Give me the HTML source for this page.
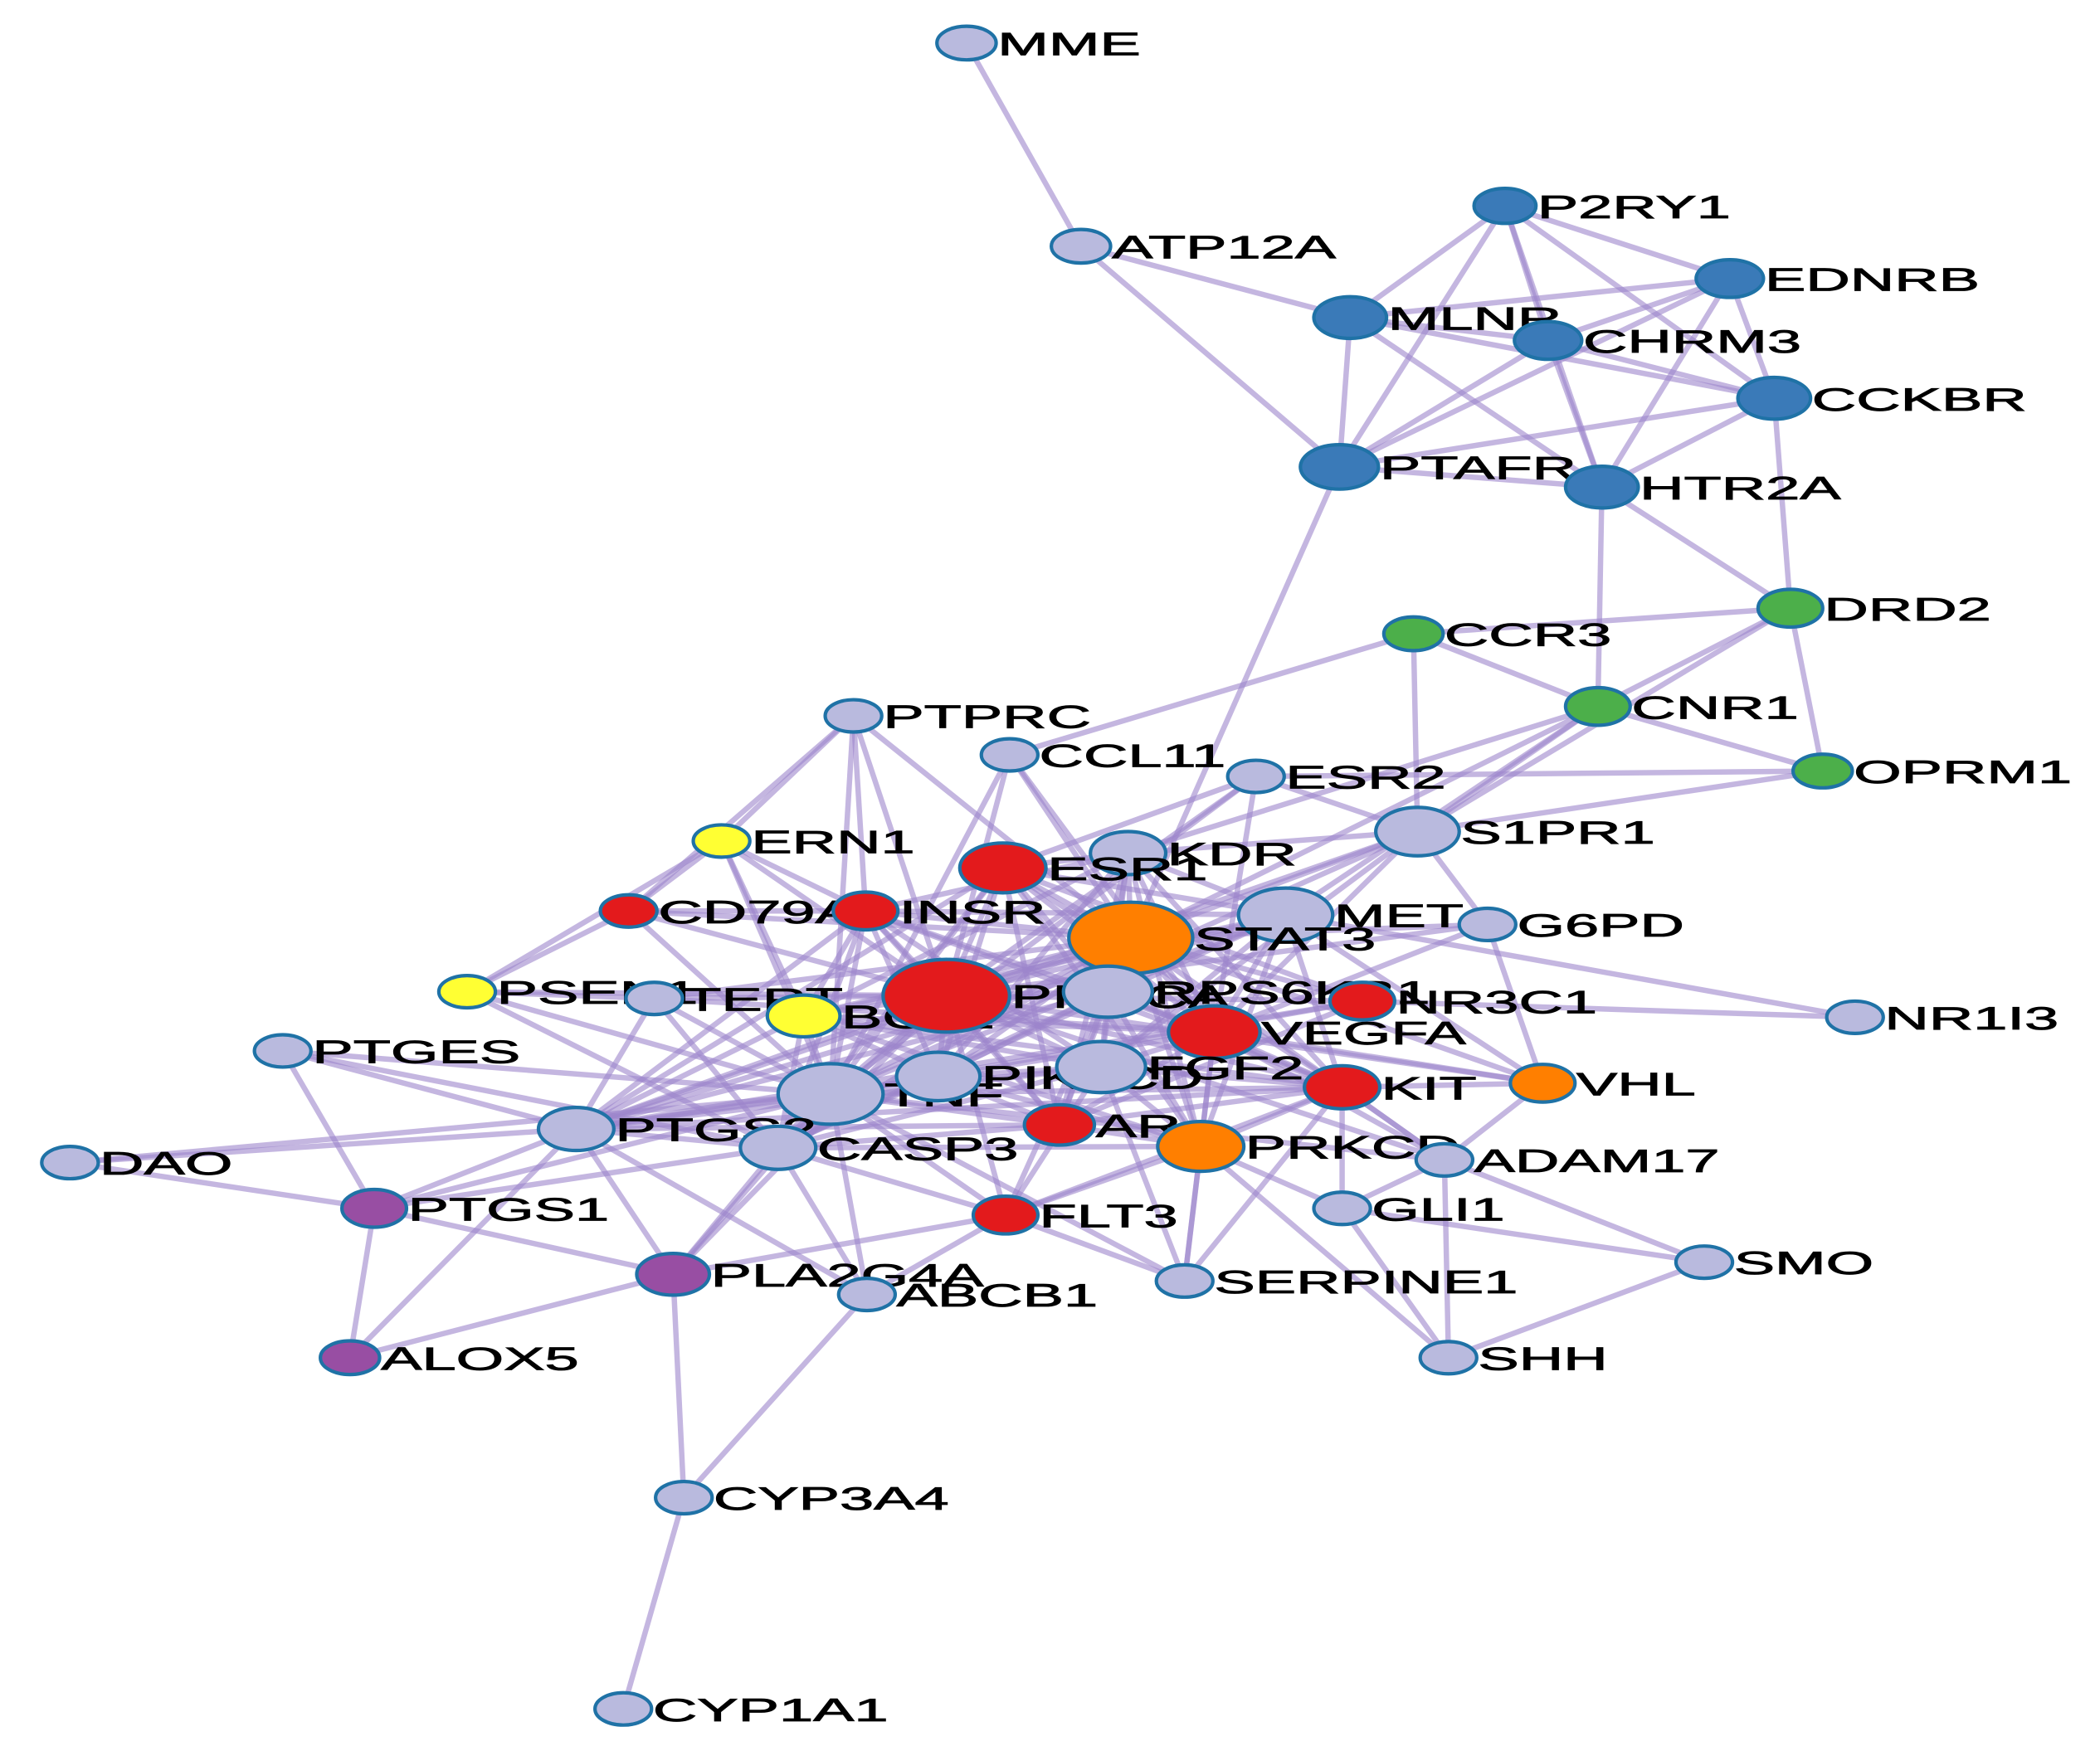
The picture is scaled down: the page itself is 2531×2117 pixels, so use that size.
<!DOCTYPE html>
<html><head><meta charset="utf-8"><style>
html,body{margin:0;padding:0;background:#fff;}
svg{display:block;}
text{font-family:"Liberation Sans",Arial,sans-serif;font-size:24px;fill:#000;stroke:#000;stroke-width:0.5;}
.n ellipse{stroke-width:2.6;stroke:#1f72a6;}
.L{fill:#b9bade}.R{fill:#e31a1c}.O{fill:#ff7f00}.Y{fill:#ffff33}.B{fill:#3a7ab8}.G{fill:#4caf4a}.P{fill:#984ea3}
</style></head><body>
<svg id="s" width="2531" height="2117" viewBox="0 0 1560 1305" preserveAspectRatio="none" xmlns="http://www.w3.org/2000/svg">
<rect width="1560" height="1305" fill="#fff"/>
<g id="edges" stroke="#9d86cb" stroke-opacity="0.6" stroke-width="4" fill="none"></g>
<g class="n">
<ellipse class="L" cx="718" cy="32" rx="22" ry="12.5"/><text transform="translate(741,41) scale(1.9,1)">MME</text>
<ellipse class="L" cx="803" cy="183" rx="22" ry="12.5"/><text transform="translate(826,192) scale(1.9,1)">ATP12A</text>
<ellipse class="B" cx="1118" cy="153" rx="23" ry="13"/><text transform="translate(1142,162) scale(1.9,1)">P2RY1</text>
<ellipse class="B" cx="1285" cy="207" rx="25" ry="14"/><text transform="translate(1311,216) scale(1.9,1)">EDNRB</text>
<ellipse class="B" cx="1003" cy="236" rx="27" ry="15.5"/><text transform="translate(1031,245) scale(1.9,1)">MLNR</text>
<ellipse class="B" cx="1150" cy="253" rx="25" ry="14"/><text transform="translate(1176,262) scale(1.9,1)">CHRM3</text>
<ellipse class="B" cx="1318" cy="296" rx="27" ry="15.5"/><text transform="translate(1346,305) scale(1.9,1)">CCKBR</text>
<ellipse class="B" cx="995" cy="347" rx="29" ry="16.5"/><text transform="translate(1025,356) scale(1.9,1)">PTAFR</text>
<ellipse class="B" cx="1190" cy="362" rx="27" ry="15.5"/><text transform="translate(1218,371) scale(1.9,1)">HTR2A</text>
<ellipse class="G" cx="1330" cy="452" rx="24" ry="14"/><text transform="translate(1355,461) scale(1.9,1)">DRD2</text>
<ellipse class="G" cx="1050" cy="471" rx="22" ry="12.5"/><text transform="translate(1073,480) scale(1.9,1)">CCR3</text>
<ellipse class="G" cx="1187" cy="525" rx="24" ry="14"/><text transform="translate(1212,534) scale(1.9,1)">CNR1</text>
<ellipse class="G" cx="1354" cy="573" rx="22" ry="12.5"/><text transform="translate(1377,582) scale(1.9,1)">OPRM1</text>
<ellipse class="L" cx="634" cy="532" rx="21" ry="12"/><text transform="translate(656,541) scale(1.9,1)">PTPRC</text>
<ellipse class="L" cx="750" cy="561" rx="21" ry="12"/><text transform="translate(772,570) scale(1.9,1)">CCL11</text>
<ellipse class="L" cx="933" cy="577" rx="21" ry="12"/><text transform="translate(955,586) scale(1.9,1)">ESR2</text>
<ellipse class="L" cx="1053" cy="618" rx="31" ry="18"/><text transform="translate(1085,627) scale(1.9,1)">S1PR1</text>
<ellipse class="Y" cx="536" cy="625" rx="21" ry="12"/><text transform="translate(558,634) scale(1.9,1)">ERN1</text>
<ellipse class="L" cx="838" cy="634" rx="28" ry="16"/><text transform="translate(867,643) scale(1.9,1)">KDR</text>
<ellipse class="R" cx="745" cy="645" rx="32" ry="18.5"/><text transform="translate(778,654) scale(1.9,1)">ESR1</text>
<ellipse class="R" cx="467" cy="677" rx="21" ry="12"/><text transform="translate(489,686) scale(1.9,1)">CD79A</text>
<ellipse class="R" cx="643" cy="677" rx="24" ry="14"/><text transform="translate(668,686) scale(1.9,1)">INSR</text>
<ellipse class="L" cx="1105" cy="687" rx="21" ry="12"/><text transform="translate(1127,696) scale(1.9,1)">G6PD</text>
<ellipse class="L" cx="955" cy="680" rx="35" ry="20"/><text transform="translate(991,689) scale(1.9,1)">MET</text>
<ellipse class="L" cx="1378" cy="756" rx="21" ry="12"/><text transform="translate(1400,765) scale(1.9,1)">NR1I3</text>
<ellipse class="Y" cx="347" cy="737" rx="21" ry="12"/><text transform="translate(369,746) scale(1.9,1)">PSEN1</text>
<ellipse class="L" cx="486" cy="742" rx="21" ry="12"/><text transform="translate(508,751) scale(1.9,1)">TERT</text>
<ellipse class="Y" cx="597" cy="755" rx="27" ry="15.5"/><text transform="translate(625,764) scale(1.9,1)">BCL2</text>
<ellipse class="R" cx="703" cy="740" rx="47" ry="27"/><text transform="translate(751,749) scale(1.9,1)">PIK3CA</text>
<ellipse class="O" cx="840" cy="697" rx="46" ry="26.5"/><text transform="translate(887,706) scale(1.9,1)">STAT3</text>
<ellipse class="L" cx="823" cy="737" rx="33" ry="19"/><text transform="translate(857,746) scale(1.9,1)">RPS6KB1</text>
<ellipse class="R" cx="1012" cy="744" rx="24" ry="14"/><text transform="translate(1037,753) scale(1.9,1)">NR3C1</text>
<ellipse class="R" cx="902" cy="767" rx="34" ry="19.5"/><text transform="translate(937,776) scale(1.9,1)">VEGFA</text>
<ellipse class="L" cx="210" cy="781" rx="21" ry="12"/><text transform="translate(232,790) scale(1.9,1)">PTGES</text>
<ellipse class="L" cx="617" cy="813" rx="39" ry="22.5"/><text transform="translate(657,822) scale(1.9,1)">TNF</text>
<ellipse class="L" cx="697" cy="800" rx="31" ry="18"/><text transform="translate(729,809) scale(1.9,1)">PIK3CD</text>
<ellipse class="L" cx="818" cy="793" rx="33" ry="19"/><text transform="translate(852,802) scale(1.9,1)">FGF2</text>
<ellipse class="R" cx="997" cy="808" rx="28" ry="16"/><text transform="translate(1026,817) scale(1.9,1)">KIT</text>
<ellipse class="O" cx="1146" cy="805" rx="24" ry="14"/><text transform="translate(1171,814) scale(1.9,1)">VHL</text>
<ellipse class="R" cx="787" cy="836" rx="26" ry="15"/><text transform="translate(814,845) scale(1.9,1)">AR</text>
<ellipse class="L" cx="428" cy="839" rx="28" ry="16"/><text transform="translate(457,848) scale(1.9,1)">PTGS2</text>
<ellipse class="L" cx="578" cy="853" rx="28" ry="16"/><text transform="translate(607,862) scale(1.9,1)">CASP3</text>
<ellipse class="O" cx="892" cy="852" rx="32" ry="18.5"/><text transform="translate(925,861) scale(1.9,1)">PRKCD</text>
<ellipse class="L" cx="1073" cy="862" rx="21" ry="12"/><text transform="translate(1095,871) scale(1.9,1)">ADAM17</text>
<ellipse class="L" cx="52" cy="864" rx="21" ry="12"/><text transform="translate(74,873) scale(1.9,1)">DAO</text>
<ellipse class="L" cx="997" cy="898" rx="21" ry="12"/><text transform="translate(1019,907) scale(1.9,1)">GLI1</text>
<ellipse class="P" cx="278" cy="898" rx="24" ry="14"/><text transform="translate(303,907) scale(1.9,1)">PTGS1</text>
<ellipse class="R" cx="747" cy="903" rx="24" ry="14"/><text transform="translate(772,912) scale(1.9,1)">FLT3</text>
<ellipse class="P" cx="500" cy="947" rx="27" ry="15.5"/><text transform="translate(528,956) scale(1.9,1)">PLA2G4A</text>
<ellipse class="L" cx="644" cy="962" rx="21" ry="12"/><text transform="translate(666,971) scale(1.9,1)">ABCB1</text>
<ellipse class="L" cx="880" cy="952" rx="21" ry="12"/><text transform="translate(902,961) scale(1.9,1)">SERPINE1</text>
<ellipse class="L" cx="1266" cy="938" rx="21" ry="12"/><text transform="translate(1288,947) scale(1.9,1)">SMO</text>
<ellipse class="P" cx="260" cy="1009" rx="22" ry="12.5"/><text transform="translate(283,1018) scale(1.9,1)">ALOX5</text>
<ellipse class="L" cx="1076" cy="1009" rx="21" ry="12"/><text transform="translate(1098,1018) scale(1.9,1)">SHH</text>
<ellipse class="L" cx="508" cy="1113" rx="21" ry="12"/><text transform="translate(530,1122) scale(1.9,1)">CYP3A4</text>
<ellipse class="L" cx="463" cy="1270" rx="21" ry="12"/><text transform="translate(485,1279) scale(1.9,1)">CYP1A1</text>
</g>
</svg>
<script>
var M={MME:[718,32],ATP12A:[803,183],P2RY1:[1118,153],EDNRB:[1285,207],MLNR:[1003,236],CHRM3:[1150,253],CCKBR:[1318,296],PTAFR:[995,347],HTR2A:[1190,362],DRD2:[1330,452],CCR3:[1050,471],CNR1:[1187,525],OPRM1:[1354,573],PTPRC:[634,532],CCL11:[750,561],ESR2:[933,577],S1PR1:[1053,618],ERN1:[536,625],KDR:[838,634],ESR1:[745,645],CD79A:[467,677],INSR:[643,677],G6PD:[1105,687],MET:[955,680],NR1I3:[1378,756],PSEN1:[347,737],TERT:[486,742],BCL2:[597,755],PIK3CA:[703,740],STAT3:[840,697],RPS6KB1:[823,737],NR3C1:[1012,744],VEGFA:[902,767],PTGES:[210,781],TNF:[617,813],PIK3CD:[697,800],FGF2:[818,793],KIT:[997,808],VHL:[1146,805],AR:[787,836],PTGS2:[428,839],CASP3:[578,853],PRKCD:[892,852],ADAM17:[1073,862],DAO:[52,864],GLI1:[997,898],PTGS1:[278,898],FLT3:[747,903],PLA2G4A:[500,947],ABCB1:[644,962],SERPINE1:[880,952],SMO:[1266,938],ALOX5:[260,1009],SHH:[1076,1009],CYP3A4:[508,1113],CYP1A1:[463,1270]};
var E=[['MME','ATP12A'],['ATP12A','MLNR'],['ATP12A','PTAFR'],
['P2RY1','MLNR'],['P2RY1','CHRM3'],['P2RY1','EDNRB'],['P2RY1','CCKBR'],['P2RY1','HTR2A'],['P2RY1','PTAFR'],
['EDNRB','MLNR'],['EDNRB','CHRM3'],['EDNRB','CCKBR'],['EDNRB','HTR2A'],['EDNRB','PTAFR'],
['MLNR','CHRM3'],['MLNR','CCKBR'],['MLNR','PTAFR'],['MLNR','HTR2A'],['CHRM3','CCKBR'],['CHRM3','PTAFR'],['CHRM3','HTR2A'],
['CCKBR','PTAFR'],['CCKBR','HTR2A'],['CCKBR','DRD2'],['PTAFR','HTR2A'],['PTAFR','STAT3'],
['HTR2A','DRD2'],['HTR2A','CNR1'],['DRD2','CCR3'],['DRD2','CNR1'],['DRD2','OPRM1'],['DRD2','S1PR1'],
['CCR3','CNR1'],['CCR3','S1PR1'],['CCR3','CCL11'],['CNR1','OPRM1'],['CNR1','S1PR1'],['CNR1','STAT3'],['CNR1','KDR'],['CNR1','MET'],
['OPRM1','S1PR1'],['OPRM1','ESR2'],
['PTGES','PTGS2'],['PTGES','PTGS1'],['PTGES','TNF'],['PTGES','CASP3'],['DAO','PTGS1'],['DAO','PTGS2'],['DAO','TNF'],
['PTGS1','PTGS2'],['PTGS1','ALOX5'],['PTGS1','PLA2G4A'],['PTGS1','TNF'],['PTGS1','CASP3'],
['ALOX5','PLA2G4A'],['ALOX5','PTGS2'],['PLA2G4A','PTGS2'],['PLA2G4A','CASP3'],['PLA2G4A','TNF'],['PLA2G4A','CYP3A4'],['PLA2G4A','FLT3'],['PLA2G4A','PIK3CA'],
['CYP3A4','CYP1A1'],['CYP3A4','ABCB1'],['ABCB1','TNF'],['ABCB1','CASP3'],['ABCB1','FLT3'],['ABCB1','PTGS2'],
['SMO','GLI1'],['SMO','SHH'],['SMO','ADAM17'],['SHH','GLI1'],['SHH','ADAM17'],['SHH','PRKCD'],['GLI1','PRKCD'],['GLI1','ADAM17'],['GLI1','KIT'],
['SERPINE1','FLT3'],['SERPINE1','PRKCD'],['SERPINE1','VEGFA'],['SERPINE1','TNF'],['SERPINE1','KIT'],['SERPINE1','FGF2'],
['NR1I3','NR3C1'],['NR1I3','MET'],['VHL','VEGFA'],['VHL','MET'],['VHL','G6PD'],['VHL','STAT3'],['VHL','ADAM17'],['VHL','KIT'],['VHL','PIK3CA'],
['PTPRC','ERN1'],['PTPRC','PIK3CA'],['PTPRC','TNF'],['PTPRC','CD79A'],['PTPRC','STAT3'],['PTPRC','INSR'],
['PSEN1','CD79A'],['PSEN1','TNF'],['PSEN1','PIK3CA'],['PSEN1','CASP3'],['PSEN1','ERN1'],['PSEN1','TERT'],
['ERN1','CD79A'],['ERN1','PIK3CA'],['ERN1','BCL2'],['ERN1','TNF'],['ERN1','INSR'],
['CD79A','INSR'],['CD79A','PIK3CA'],['CD79A','TNF'],['CD79A','STAT3'],
['CCL11','STAT3'],['CCL11','TNF'],['CCL11','VEGFA'],['CCL11','PIK3CA'],['ESR2','ESR1'],['ESR2','S1PR1'],['ESR2','PIK3CA'],['ESR2','VEGFA'],['ESR2','TNF'],
['G6PD','STAT3'],['G6PD','PIK3CA'],['G6PD','VEGFA'],['G6PD','S1PR1'],['S1PR1','PIK3CA'],['S1PR1','STAT3'],['S1PR1','VEGFA'],['S1PR1','KDR'],['S1PR1','FGF2'],['S1PR1','TNF'],
['ADAM17','TNF'],['ADAM17','VEGFA'],['ADAM17','PIK3CA'],['ADAM17','STAT3'],['ADAM17','KIT'],
['FLT3','PIK3CA'],['FLT3','STAT3'],['FLT3','KIT'],['FLT3','TNF'],['FLT3','CASP3'],['FLT3','PRKCD'],['FLT3','FGF2'],
['NR3C1','TNF'],['NR3C1','STAT3'],['NR3C1','ESR1'],['NR3C1','AR'],['NR3C1','PIK3CA'],['NR3C1','PTGS2'],
['TERT','PIK3CA'],['TERT','STAT3'],['TERT','TNF'],['TERT','CASP3'],['TERT','PTGS2'],['TERT','VEGFA']];
var C=['PIK3CA','STAT3','RPS6KB1','VEGFA','FGF2','TNF','PIK3CD','ESR1','KDR','MET','INSR','CASP3','AR','PRKCD','KIT','BCL2','PTGS2'];
for(var i=0;i<C.length;i++)for(var j=i+1;j<C.length;j++){if((i*7+j*3)%5!=4)E.push([C[i],C[j]]);}
var ns='http://www.w3.org/2000/svg',eg=document.getElementById('edges');
E.forEach(function(e){var a=M[e[0]],b=M[e[1]];if(!a||!b)return;var l=document.createElementNS(ns,'line');
l.setAttribute('x1',a[0]);l.setAttribute('y1',a[1]);l.setAttribute('x2',b[0]);l.setAttribute('y2',b[1]);eg.appendChild(l);});
</script>
</body></html>
